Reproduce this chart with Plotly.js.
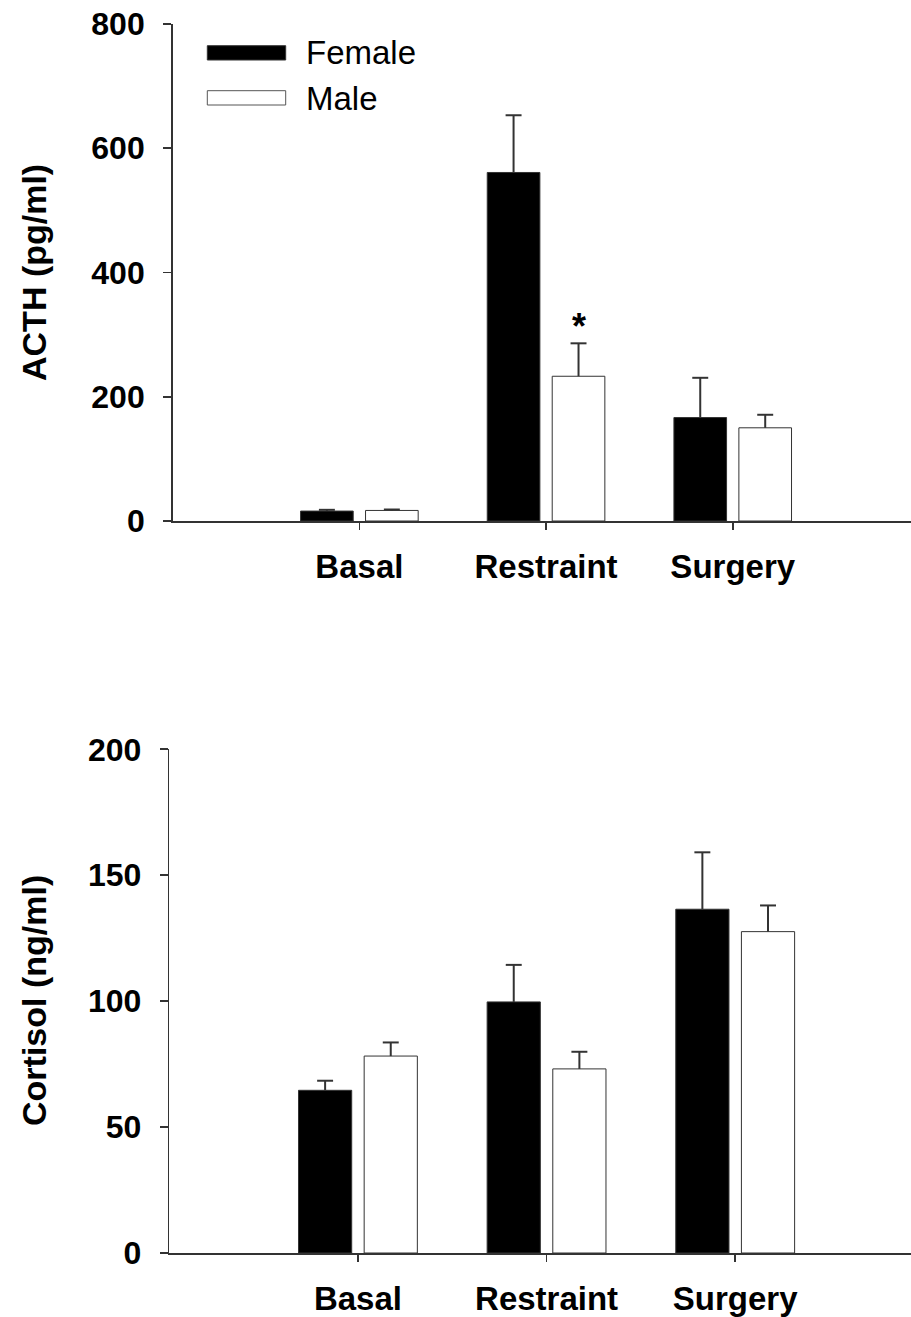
<!DOCTYPE html>
<html>
<head>
<meta charset="utf-8">
<script src="https://cdn.plot.ly/plotly-3.0.1.min.js"></script>
<style>html,body{margin:0;padding:0;background:#fff;}#chart{width:911px;height:1317px;}</style>
</head>
<body>
<div id="chart"></div>
<script>
// ---- data ----
const categories = ['Basal', 'Restraint', 'Surgery'];
const seriesNames = ['Female', 'Male'];
const acthFemale = [16, 561, 166.5];
const acthFemaleSem = [2, 92, 64];
const acthMale = [17, 233, 150];
const acthMaleSem = [1.5, 53, 21];
const cortisolFemale = [64.6, 99.7, 136.5];
const cortisolFemaleSem = [3.8, 14.7, 22.6];
const cortisolMale = [78.2, 73.1, 127.6];
const cortisolMaleSem = [5.4, 6.8, 10.4];
const acthTicks = [0, 200, 400, 600, 800];
const cortisolTicks = [0, 50, 100, 150, 200];
const acthTitle = 'ACTH (pg/ml)';
const cortisolTitle = 'Cortisol (ng/ml)';
const significantCategory = 'Restraint'; // * on male ACTH

// ---- styling ----
const W = 911, H = 1317;
const FONT = 'Liberation Sans, Arial, Helvetica, sans-serif';
const LINE = '#333';
const barW = 0.282;
const offF = -0.315, offM = 0.033;
const xIdx = categories.map((c, i) => i);

function barTrace(name, y, sem, fill, xa, ya) {
  return {
    type: 'bar', name: name, x: xIdx, y: y,
    xaxis: xa, yaxis: ya,
    width: barW, offset: name === 'Female' ? offF : offM,
    marker: {color: fill, line: {color: LINE, width: 1}},
    error_y: {type: 'data', symmetric: false, array: sem,
              arrayminus: sem.map(() => 0), color: LINE, thickness: 2, width: 0},
    showlegend: false, hoverinfo: 'y'
  };
}
// caps of the (upward-only) error bars
function capTrace(name, y, sem, xa, ya) {
  const off = name === 'Female' ? offF : offM;
  return {
    type: 'scatter', mode: 'markers', x: xIdx.map(i => i + off + barW / 2),
    y: y.map((v, i) => v + sem[i]), xaxis: xa, yaxis: ya,
    marker: {symbol: 'line-ew', size: 11.4, color: LINE, line: {color: LINE, width: 2}},
    showlegend: false, hoverinfo: 'skip'
  };
}

const data = [
  barTrace(seriesNames[0], acthFemale, acthFemaleSem, '#000', 'x', 'y'),
  barTrace(seriesNames[1], acthMale, acthMaleSem, '#fff', 'x', 'y'),
  barTrace(seriesNames[0], cortisolFemale, cortisolFemaleSem, '#000', 'x2', 'y2'),
  barTrace(seriesNames[1], cortisolMale, cortisolMaleSem, '#fff', 'x2', 'y2'),
  capTrace(seriesNames[0], acthFemale, acthFemaleSem, 'x', 'y'),
  capTrace(seriesNames[1], acthMale, acthMaleSem, 'x', 'y'),
  capTrace(seriesNames[0], cortisolFemale, cortisolFemaleSem, 'x2', 'y2'),
  capTrace(seriesNames[1], cortisolMale, cortisolMaleSem, 'x2', 'y2')
];

const tickFont = {family: FONT, size: 32, color: '#000', weight: 'bold'};
const catFont = {family: FONT, size: 33, color: '#000', weight: 'bold'};

function xAxis(domainLeft, anchor, rightEnd) {
  return {
    domain: [domainLeft / W, 1], anchor: anchor, type: 'linear',
    range: [-1, rightEnd], tickvals: xIdx, ticktext: categories,
    showgrid: false, zeroline: false,
    showline: true, linecolor: LINE, linewidth: 1.6,
    ticks: 'outside', ticklen: 7, tickwidth: 1.6, tickcolor: LINE,
    tickfont: catFont, ticklabelstandoff: 9, fixedrange: true
  };
}
function yAxis(top, bottom, anchor, ticks) {
  return {
    domain: [1 - bottom / H, 1 - top / H], anchor: anchor,
    range: [ticks[0], ticks[ticks.length - 1]], tickvals: ticks,
    showgrid: false, zeroline: false,
    showline: true, linecolor: LINE, linewidth: 1.6,
    ticks: 'outside', ticklen: 8, tickwidth: 1.6, tickcolor: LINE,
    tickfont: tickFont, ticklabelstandoff: 12, fixedrange: true
  };
}

const sigIdx = categories.indexOf(significantCategory);

const layout = {
  width: W, height: H,
  margin: {l: 0, r: 0, t: 0, b: 0},
  paper_bgcolor: '#fff', plot_bgcolor: '#fff',
  barmode: 'overlay', showlegend: false,
  xaxis: xAxis(172.7, 'y', 2.955),
  yaxis: yAxis(24, 521, 'x', acthTicks),
  xaxis2: xAxis(169.3, 'y2', 2.932),
  yaxis2: yAxis(749.3, 1253, 'x2', cortisolTicks),
  shapes: [
    {type: 'rect', xref: 'paper', yref: 'paper',
     x0: 207.3 / W, x1: 285.7 / W, y0: 1 - 60 / H, y1: 1 - 45.7 / H,
     fillcolor: '#000', line: {color: LINE, width: 1}},
    {type: 'rect', xref: 'paper', yref: 'paper',
     x0: 207.3 / W, x1: 285.7 / W, y0: 1 - 105 / H, y1: 1 - 90.7 / H,
     fillcolor: '#fff', line: {color: '#555', width: 1}}
  ],
  annotations: [
    {text: seriesNames[0], xref: 'paper', yref: 'paper', x: 304 / W, y: 1 - 52 / H,
     xanchor: 'left', yanchor: 'middle', showarrow: false,
     font: {family: FONT, size: 33, color: '#000'}},
    {text: seriesNames[1], xref: 'paper', yref: 'paper', x: 304 / W, y: 1 - 98 / H,
     xanchor: 'left', yanchor: 'middle', showarrow: false,
     font: {family: FONT, size: 33, color: '#000'}},
    {text: acthTitle, xref: 'paper', yref: 'paper', x: 34 / W, y: 1 - 273 / H,
     xanchor: 'center', yanchor: 'middle', textangle: -90, showarrow: false,
     font: {family: FONT, size: 34, color: '#000', weight: 'bold'}},
    {text: cortisolTitle, xref: 'paper', yref: 'paper', x: 34 / W, y: 1 - 1001 / H,
     xanchor: 'center', yanchor: 'middle', textangle: -90, showarrow: false,
     font: {family: FONT, size: 34, color: '#000', weight: 'bold'}},
    {text: '*', xref: 'x', yref: 'y', x: sigIdx + offM + barW / 2,
     y: acthMale[sigIdx] + acthMaleSem[sigIdx], xanchor: 'center', yanchor: 'bottom',
     yshift: -6, showarrow: false,
     font: {family: FONT, size: 36, color: '#000', weight: 'bold'}}
  ]
};

Plotly.newPlot('chart', data, layout, {staticPlot: true, displayModeBar: false});
</script>
</body>
</html>
